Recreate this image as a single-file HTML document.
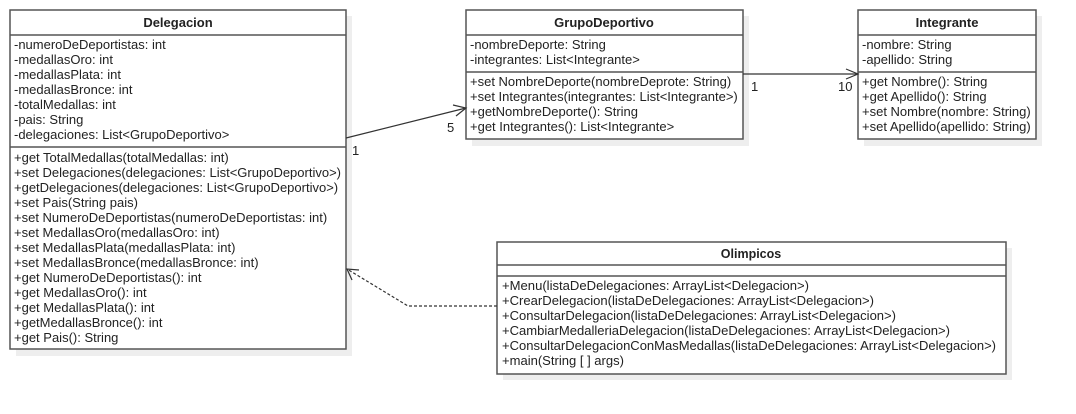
<!DOCTYPE html>
<html><head><meta charset="utf-8"><style>
html,body{margin:0;padding:0;background:#fff;width:1076px;height:414px;overflow:hidden}
svg text{font-family:"Liberation Sans",Arial,sans-serif;font-size:13px;fill:#222}
.b{font-weight:bold}
.o{font-size:12.5px}
</style></head><body>
<svg width="1076" height="414" xmlns="http://www.w3.org/2000/svg">
<g fill="#eee">
<rect x="16" y="16" width="336" height="340"/>
<rect x="472" y="16" width="277" height="130"/>
<rect x="864" y="16" width="178" height="130"/>
<rect x="503" y="248" width="509" height="132"/>
</g>
<g fill="#fff" stroke="#555" stroke-width="1.5">
<rect x="10" y="10" width="336" height="339"/>
<rect x="466" y="10" width="277" height="129"/>
<rect x="858" y="10" width="178" height="129"/>
<rect x="497" y="242" width="509" height="132"/>
</g>
<g stroke="#555" stroke-width="1.5">
<line x1="10" y1="35" x2="346" y2="35"/><line x1="10" y1="147" x2="346" y2="147"/>
<line x1="466" y1="35" x2="743" y2="35"/><line x1="466" y1="72" x2="743" y2="72"/>
<line x1="858" y1="35" x2="1036" y2="35"/><line x1="858" y1="72" x2="1036" y2="72"/>
<line x1="497" y1="265" x2="1006" y2="265"/><line x1="497" y1="276" x2="1006" y2="276"/>
</g>
<g fill="none" stroke="#333" stroke-width="1.2">
<line x1="346" y1="138" x2="466" y2="108"/>
<polyline points="453,105 466,108 456,116"/>
<line x1="743" y1="74" x2="858" y2="74"/>
<polyline points="846,69 858,74 846,79"/>
<polyline points="497,306 408,306 347,269" stroke-dasharray="3,2"/>
<polyline points="352,280 347,269 359,270"/>
</g>
<text x="352" y="155">1</text><text x="447" y="132">5</text>
<text x="751" y="91">1</text><text x="838" y="91">10</text>
<text class="b" x="178" y="27" text-anchor="middle">Delegacion</text>
<g>
<text x="14" y="49">-numeroDeDeportistas: int</text>
<text x="14" y="64">-medallasOro: int</text>
<text x="14" y="79">-medallasPlata: int</text>
<text x="14" y="94">-medallasBronce: int</text>
<text x="14" y="109">-totalMedallas: int</text>
<text x="14" y="124">-pais: String</text>
<text x="14" y="139">-delegaciones: List&lt;GrupoDeportivo&gt;</text>
<text x="14" y="162">+get TotalMedallas(totalMedallas: int)</text>
<text x="14" y="177">+set Delegaciones(delegaciones: List&lt;GrupoDeportivo&gt;)</text>
<text x="14" y="192">+getDelegaciones(delegaciones: List&lt;GrupoDeportivo&gt;)</text>
<text x="14" y="207">+set Pais(String pais)</text>
<text x="14" y="222">+set NumeroDeDeportistas(numeroDeDeportistas: int)</text>
<text x="14" y="237">+set MedallasOro(medallasOro: int)</text>
<text x="14" y="252">+set MedallasPlata(medallasPlata: int)</text>
<text x="14" y="267">+set MedallasBronce(medallasBronce: int)</text>
<text x="14" y="282">+get NumeroDeDeportistas(): int</text>
<text x="14" y="297">+get MedallasOro(): int</text>
<text x="14" y="312">+get MedallasPlata(): int</text>
<text x="14" y="327">+getMedallasBronce(): int</text>
<text x="14" y="342">+get Pais(): String</text>
</g>
<text class="b" x="604" y="27" text-anchor="middle">GrupoDeportivo</text>
<text x="470" y="49">-nombreDeporte: String</text>
<text x="470" y="64">-integrantes: List&lt;Integrante&gt;</text>
<text x="470" y="86">+set NombreDeporte(nombreDeprote: String)</text>
<text x="470" y="101">+set Integrantes(integrantes: List&lt;Integrante&gt;)</text>
<text x="470" y="116">+getNombreDeporte(): String</text>
<text x="470" y="131">+get Integrantes(): List&lt;Integrante&gt;</text>
<text class="b" x="947" y="27" text-anchor="middle">Integrante</text>
<text x="862" y="49">-nombre: String</text>
<text x="862" y="64">-apellido: String</text>
<text x="862" y="86">+get Nombre(): String</text>
<text x="862" y="101">+get Apellido(): String</text>
<text x="862" y="116">+set Nombre(nombre: String)</text>
<text x="862" y="131">+set Apellido(apellido: String)</text>
<text class="b o" x="751" y="258" text-anchor="middle">Olimpicos</text>
<text class="o" x="502" y="290" textLength="307" lengthAdjust="spacingAndGlyphs">+Menu(listaDeDelegaciones: ArrayList&lt;Delegacion&gt;)</text>
<text class="o" x="502" y="305" textLength="372" lengthAdjust="spacingAndGlyphs">+CrearDelegacion(listaDeDelegaciones: ArrayList&lt;Delegacion&gt;)</text>
<text class="o" x="502" y="320" textLength="394" lengthAdjust="spacingAndGlyphs">+ConsultarDelegacion(listaDeDelegaciones: ArrayList&lt;Delegacion&gt;)</text>
<text class="o" x="502" y="335" textLength="448" lengthAdjust="spacingAndGlyphs">+CambiarMedalleriaDelegacion(listaDeDelegaciones: ArrayList&lt;Delegacion&gt;)</text>
<text class="o" x="502" y="350" textLength="494" lengthAdjust="spacingAndGlyphs">+ConsultarDelegacionConMasMedallas(listaDeDelegaciones: ArrayList&lt;Delegacion&gt;)</text>
<text class="o" x="502" y="365" textLength="122" lengthAdjust="spacingAndGlyphs">+main(String [ ] args)</text>
</svg>
</body></html>
